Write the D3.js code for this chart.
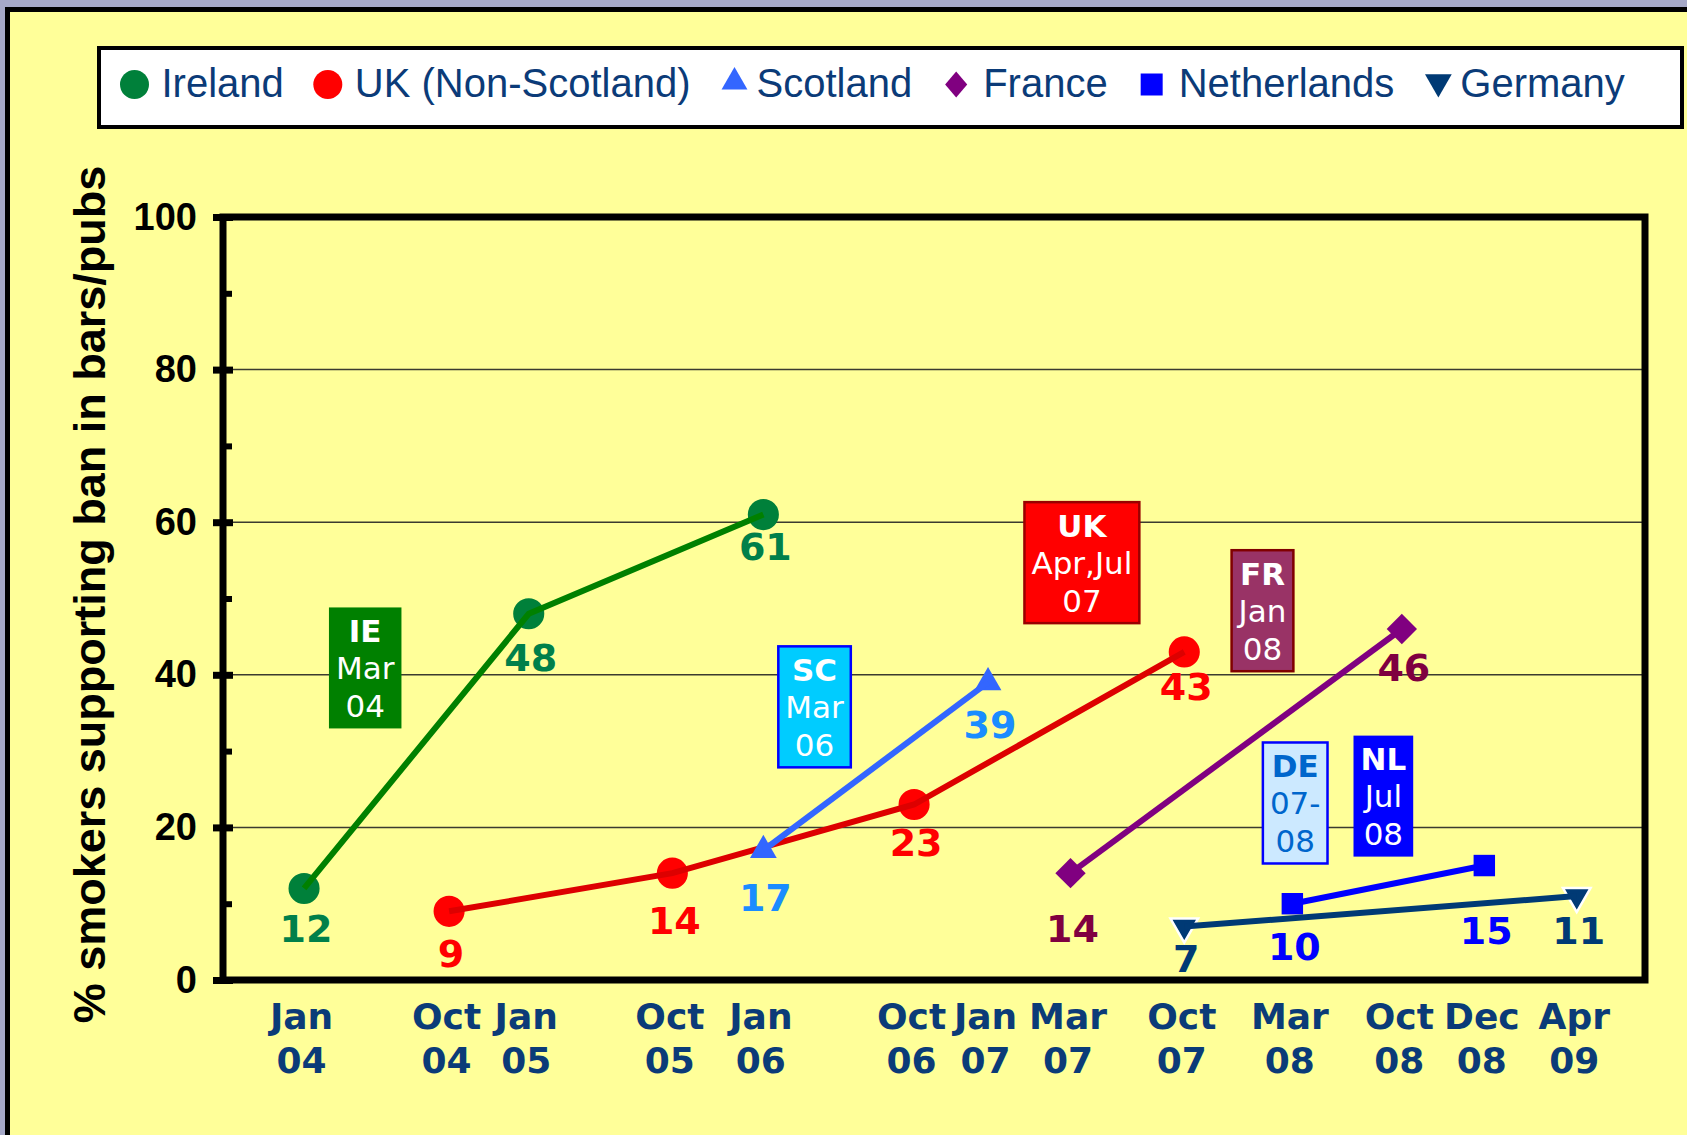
<!DOCTYPE html>
<html>
<head>
<meta charset="utf-8">
<script src="https://cdn.jsdelivr.net/npm/d3@7"></script>
<style>
	html, body { margin: 0; padding: 0; background: #a6a9c8; overflow: hidden; }
	svg { display: block; }
</style>
</head>
<body>
<div id="chart"></div>
<script>
// categories on the x axis and where each one sits along the (compressed) time axis, in % of the axis
const categories = ['Jan 04', 'Oct 04', 'Jan 05', 'Oct 05', 'Jan 06', 'Oct 06', 'Jan 07', 'Mar 07', 'Oct 07', 'Mar 08', 'Oct 08', 'Dec 08', 'Apr 09']
const catPos = [5.7, 15.9, 21.5, 31.6, 38.0, 48.6, 53.8, 59.6, 67.6, 75.2, 82.9, 88.7, 95.2]

const yMajor = [0, 20, 40, 60, 80, 100]
const yMinor = [10, 30, 50, 70, 90]

// series values (% smokers supporting ban)
const seriesNames = ['Ireland', 'UK (Non-Scotland)', 'Scotland', 'France', 'Netherlands', 'Germany']
const irelandCats = ['Jan 04', 'Jan 05', 'Jan 06']
const irelandVals = [12, 48, 61]
const ukCats = ['Oct 04', 'Oct 05', 'Oct 06', 'Oct 07']
const ukVals = [9, 14, 23, 43]
const scotlandCats = ['Jan 06', 'Jan 07']
const scotlandVals = [17, 39]
const franceCats = ['Mar 07', 'Oct 08']
const franceVals = [14, 46]
const netherlandsCats = ['Mar 08', 'Dec 08']
const netherlandsVals = [10, 15]
const germanyCats = ['Oct 07', 'Apr 09']
const germanyVals = [7, 11]

// ban dates boxes: title, text lines, and anchor in data units (axis %, value)
const annoTitles = ['IE', 'UK', 'SC', 'FR', 'DE', 'NL']
const annoLines = [['Mar', '04'], ['Apr,Jul', '07'], ['Mar', '06'], ['Jan', '08'], ['07-', '08'], ['Jul', '08']]
const annoX = [10.0, 60.4, 41.6, 73.1, 75.4, 81.6]
const annoY = [40.9, 54.7, 35.8, 48.4, 23.2, 24.1]

const W = 1687
const H = 1135
const margin = { left: 223, right: 42, top: 217, bottom: 155 }
const verdana = '"DejaVu Sans", Verdana, sans-serif'
const arial = '"Liberation Sans", Arial, sans-serif'
const navy = '#0b3b78'

const svg = d3.select('#chart').append('svg').attr('width', W).attr('height', H)

// slide background + yellow panel
svg.append('rect').attr('width', W).attr('height', H).attr('fill', '#a6a9c8')
svg.append('rect')
	.attr('x', 7.5).attr('y', 9.5)
	.attr('width', W).attr('height', H)
	.attr('fill', '#ffff99')
	.attr('stroke', '#000')
	.attr('stroke-width', 5)

const x = d3.scaleLinear().domain([0, 100]).range([margin.left, W - margin.right])
const y = d3.scaleLinear().domain([0, 100]).range([H - margin.bottom, margin.top])
const xOf = cat => x(catPos[categories.indexOf(cat)])

//gridlines
svg.append('g')
	.selectAll('line')
	.data(yMajor.filter(v => v > 0 && v < 100))
	.join('line')
	.attr('x1', x.range()[0])
	.attr('x2', x.range()[1])
	.attr('y1', d => y(d))
	.attr('y2', d => y(d))
	.attr('stroke', '#3b3b30')
	.attr('stroke-width', 1.5)

// y axis: outer major ticks with labels
const gy = svg.append('g')
	.attr('transform', `translate(${margin.left},0)`)
	.call(d3.axisLeft(y).tickValues(yMajor).tickSize(10).tickPadding(16))
gy.select('.domain').remove()
gy.selectAll('line').attr('stroke', '#000').attr('stroke-width', 7)
gy.selectAll('text')
	.attr('font-family', arial)
	.attr('font-weight', 'bold')
	.attr('font-size', 38)
	.attr('fill', '#000')

// inner ticks (major + minor)
const gyIn = svg.append('g')
	.attr('transform', `translate(${margin.left},0)`)
	.call(d3.axisRight(y).tickValues(yMajor.concat(yMinor)).tickSize(10).tickFormat(''))
gyIn.select('.domain').remove()
gyIn.selectAll('line')
	.attr('stroke', '#000')
	.attr('stroke-width', d => (yMajor.includes(d) ? 7 : 6))
	.attr('x2', d => (yMajor.includes(d) ? 10 : 9))

// plot frame
svg.append('rect')
	.attr('x', x.range()[0])
	.attr('y', y.range()[1])
	.attr('width', x.range()[1] - x.range()[0])
	.attr('height', y.range()[0] - y.range()[1])
	.attr('fill', 'none')
	.attr('stroke', '#000')
	.attr('stroke-width', 7)

// x axis, two line labels
const gx = svg.append('g')
	.attr('transform', `translate(0,${H - margin.bottom})`)
	.call(d3.axisBottom(x).tickValues(catPos).tickSize(0).tickFormat(''))
gx.select('.domain').remove()
gx.selectAll('.tick text')
	.attr('y', null)
	.attr('dy', null)
	.attr('font-family', verdana)
	.attr('font-weight', 'bold')
	.attr('font-size', 36)
	.attr('fill', navy)
	.each(function (d, i) {
		d3.select(this)
			.selectAll('tspan')
			.data(categories[i].split(' '))
			.join('tspan')
			.attr('x', -3)
			.attr('y', (p, j) => 49 + j * 44)
			.text(p => p)
	})

// y title
svg.append('text')
	.attr('transform', `translate(105,${(y.range()[0] + y.range()[1]) / 2 - 4}) rotate(-90)`)
	.attr('text-anchor', 'middle')
	.attr('font-family', arial)
	.attr('font-weight', 'bold')
	.attr('font-size', 45)
	.attr('fill', '#000')
	.text('% smokers supporting ban in bars/pubs')

// series table built from the arrays above (labelDy = gap under each marker for its value label)
const series = [
	{ cats: irelandCats, vals: irelandVals, sym: d3.symbolCircle, size: 760, rot: 0, marker: '#00803a', line: '#008000', label: '#00804a', labelDy: [40, 43, 31] },
	{ cats: ukCats, vals: ukVals, sym: d3.symbolCircle, size: 760, rot: 0, marker: '#ff0000', line: '#dd0000', label: '#ff0000', labelDy: [42, 47, 37, 34] },
	{ cats: scotlandCats, vals: scotlandVals, sym: d3.symbolTriangle, size: 310, rot: 0, marker: '#3366ff', line: '#3366ff', label: '#1a8cff', labelDy: [47, 42] },
	{ cats: franceCats, vals: franceVals, sym: d3.symbolSquare, size: 460, rot: 45, marker: '#800080', line: '#800080', label: '#7f0040', labelDy: [55, 38] },
	{ cats: netherlandsCats, vals: netherlandsVals, sym: d3.symbolSquare, size: 460, rot: 0, marker: '#0000ff', line: '#0000ff', label: '#0000ff', labelDy: [42, 64] },
	{ cats: germanyCats, vals: germanyVals, sym: d3.symbolTriangle, size: 330, rot: 180, marker: '#003a75', line: '#003a75', label: '#003a75', labelDy: [31, 34], outline: '#fff' },
].map((s, i) => ({ ...s, name: seriesNames[i], points: s.cats.map((c, j) => ({ cat: c, v: s.vals[j], dy: s.labelDy[j] })) }))

const line = d3.line().x(d => xOf(d.cat)).y(d => y(d.v))

series.forEach(s => {
	const g = svg.append('g').attr('class', 'series')
	g.selectAll('path.marker')
		.data(s.points)
		.join('path')
		.attr('class', 'marker')
		.attr('d', d3.symbol().type(s.sym).size(s.size))
		.attr('transform', d => `translate(${xOf(d.cat)},${y(d.v)}) rotate(${s.rot})`)
		.attr('fill', s.marker)
		.attr('stroke', s.outline || 'none')
		.attr('stroke-width', 2.5)
	g.append('path')
		.datum(s.points)
		.attr('d', line)
		.attr('fill', 'none')
		.attr('stroke', s.line)
		.attr('stroke-width', 6)
})

// value labels
series.forEach(s => {
	svg.append('g')
		.selectAll('text')
		.data(s.points)
		.join('text')
		.attr('x', d => xOf(d.cat) + 2)
		.attr('y', d => y(d.v) + d.dy + 14)
		.attr('text-anchor', 'middle')
		.attr('font-family', verdana)
		.attr('font-weight', 'bold')
		.attr('font-size', 38)
		.attr('fill', s.label)
		.text(d => d.v)
})

// ban date boxes
const annoFill = ['#008000', '#ff0000', '#00ccff', '#993366', '#cce9ff', '#0000ff']
const annoStroke = ['none', '#990000', '#0000ff', '#800000', '#0000ff', 'none']
const annoText = ['#fff', '#fff', '#fff', '#fff', '#0066cc', '#fff']

annoTitles.forEach((t, i) => {
	const g = svg.append('g').attr('transform', `translate(${x(annoX[i])},${y(annoY[i])})`)
	const rect = g.append('rect')
	const rows = [t].concat(annoLines[i])
	const texts = g.selectAll('text')
		.data(rows)
		.join('text')
		.attr('x', 0)
		.attr('y', (r, j) => [-26, 11, 49][j])
		.attr('text-anchor', 'middle')
		.attr('font-family', verdana)
		.attr('font-weight', (r, j) => (j === 0 ? 'bold' : 'normal'))
		.attr('font-size', 31)
		.attr('fill', annoText[i])
		.text(r => r)
	const w = d3.max(texts.nodes(), n => n.getComputedTextLength()) + 14
	rect.attr('x', -w / 2)
		.attr('y', -60.5)
		.attr('width', w)
		.attr('height', 121)
		.attr('fill', annoFill[i])
		.attr('stroke', annoStroke[i])
		.attr('stroke-width', 2.5)
})

// legend
const legend = svg.append('g')
legend.append('rect')
	.attr('x', 99).attr('y', 48)
	.attr('width', 1583).attr('height', 79)
	.attr('fill', '#fff')
	.attr('stroke', '#000')
	.attr('stroke-width', 4)

const legSym = [
	{ sym: d3.symbolCircle, size: 660, tf: '' },
	{ sym: d3.symbolCircle, size: 660, tf: '' },
	{ sym: d3.symbolTriangle, size: 290, tf: '' },
	{ sym: d3.symbolSquare, size: 338, tf: 'scale(0.85,1) rotate(45)' },
	{ sym: d3.symbolSquare, size: 484, tf: '' },
	{ sym: d3.symbolTriangle, size: 310, tf: 'rotate(180)' },
]
let cursor = 134.5
series.forEach((s, i) => {
	const ls = legSym[i]
	const isTri = ls.sym === d3.symbolTriangle
	legend.append('path')
		.attr('d', d3.symbol().type(ls.sym).size(ls.size))
		.attr('transform', `translate(${cursor},${isTri ? 82 : 84.5}) ${ls.tf}`)
		.attr('fill', s.marker)
	const tx = cursor + (isTri ? 22 : 27)
	const label = legend.append('text')
		.attr('x', tx)
		.attr('y', 97)
		.attr('font-family', arial)
		.attr('font-size', 40)
		.attr('fill', navy)
		.text(s.name)
	cursor = tx + label.node().getComputedTextLength() + 44
})
</script>
</body>
</html>
